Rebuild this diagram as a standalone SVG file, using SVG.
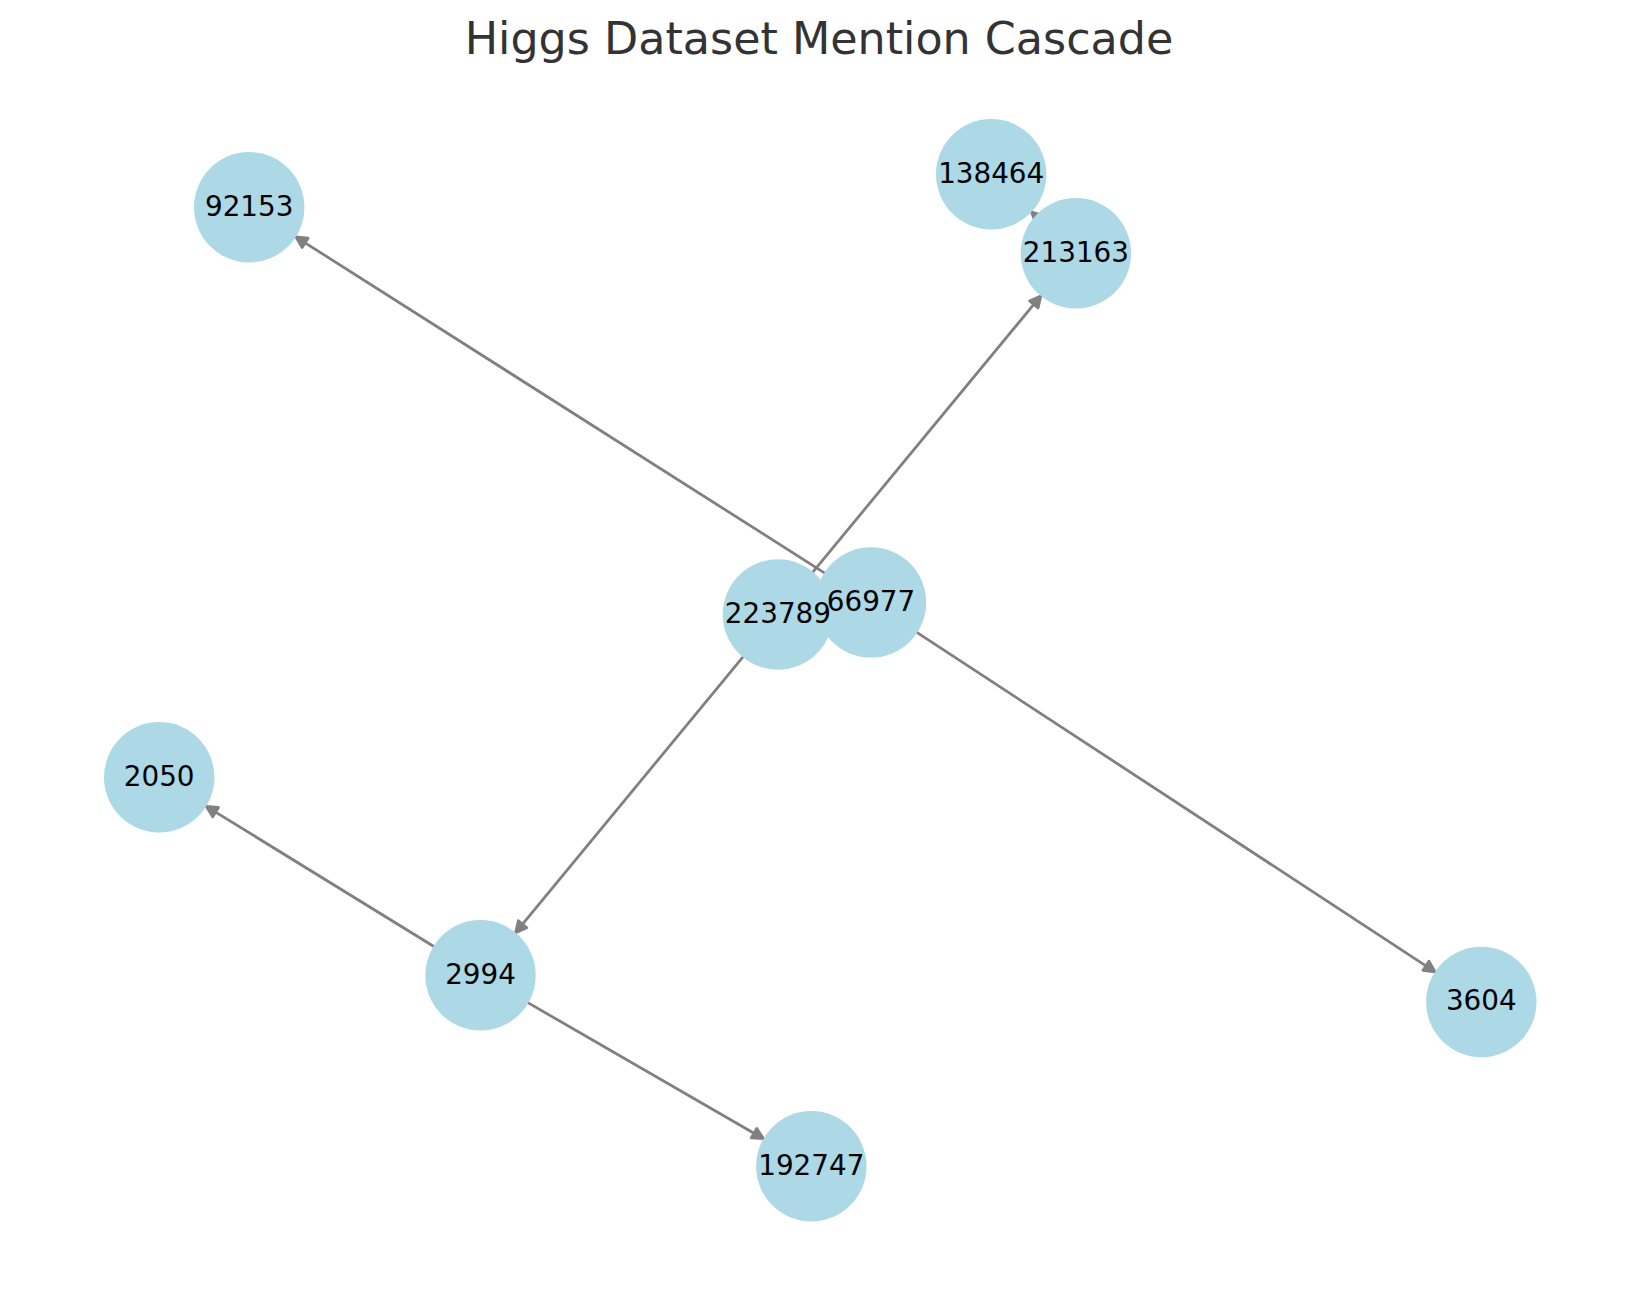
<svg xmlns="http://www.w3.org/2000/svg" width="1639" height="1290" viewBox="0 0 1639 1290">
<style>
.title{font-family:"DejaVu Sans","Liberation Sans",sans-serif;font-size:44.4px;fill:#333333;text-anchor:middle}
.edge{stroke:#808080;stroke-width:2.78;fill:none;stroke-linecap:round;marker-end:url(#arrow)}
.node circle{fill:#ADD8E6}
.label{font-family:"DejaVu Sans","Liberation Sans",sans-serif;font-size:27.8px;fill:#000000;text-anchor:middle}
</style>
<defs>
<marker id="arrow" markerUnits="userSpaceOnUse" viewBox="-3 -9 17 18" refX="0" refY="0" markerWidth="17" markerHeight="18" orient="auto">
<path d="M0,-5.5 L11,0 L0,5.5 Z" fill="#808080" stroke="#808080" stroke-width="2.78" stroke-linejoin="round"/>
</marker>
</defs>
<rect width="1639" height="1290" fill="#ffffff"/>
<text class="title" x="819" y="54">Higgs Dataset Mention Cascade</text>
<g id="edges">
<path class="edge" d="M824.4,572.8 L305.1,242.8"/>
<path class="edge" d="M813.0,571.9 L1033.8,304.4"/>
<path class="edge" d="M1047.0,226.4 L1039.6,219.5"/>
<path class="edge" d="M742.8,657.1 L522.6,924.2"/>
<path class="edge" d="M917.2,632.6 L1425.9,965.8"/>
<path class="edge" d="M433.5,946.3 L215.6,812.1"/>
<path class="edge" d="M528.3,1002.9 L754.0,1133.2"/>
</g>
<g id="nodes">
<g id="node-92153" class="node"><circle cx="249.2" cy="207.3" r="55.2"/></g>
<g id="node-138464" class="node"><circle cx="991.2" cy="174.3" r="55.2"/></g>
<g id="node-213163" class="node"><circle cx="1075.9" cy="253.3" r="55.2"/></g>
<g id="node-223789" class="node"><circle cx="777.9" cy="614.5" r="55.2"/></g>
<g id="node-66977" class="node"><circle cx="871" cy="602.4" r="55.2"/></g>
<g id="node-2050" class="node"><circle cx="159.2" cy="777.3" r="55.2"/></g>
<g id="node-2994" class="node"><circle cx="480.5" cy="975.3" r="55.2"/></g>
<g id="node-3604" class="node"><circle cx="1481.3" cy="1002" r="55.2"/></g>
<g id="node-192747" class="node"><circle cx="811.3" cy="1166.3" r="55.2"/></g>
</g>
<g id="labels">
<text id="label-92153" class="label" x="249.2" y="215.7">92153</text>
<text id="label-138464" class="label" x="991.2" y="182.7">138464</text>
<text id="label-213163" class="label" x="1075.9" y="261.7">213163</text>
<text id="label-223789" class="label" x="777.9" y="622.9">223789</text>
<text id="label-66977" class="label" x="871" y="610.8">66977</text>
<text id="label-2050" class="label" x="159.2" y="785.7">2050</text>
<text id="label-2994" class="label" x="480.5" y="983.7">2994</text>
<text id="label-3604" class="label" x="1481.3" y="1010.4">3604</text>
<text id="label-192747" class="label" x="811.3" y="1174.7">192747</text>
</g>
</svg>
